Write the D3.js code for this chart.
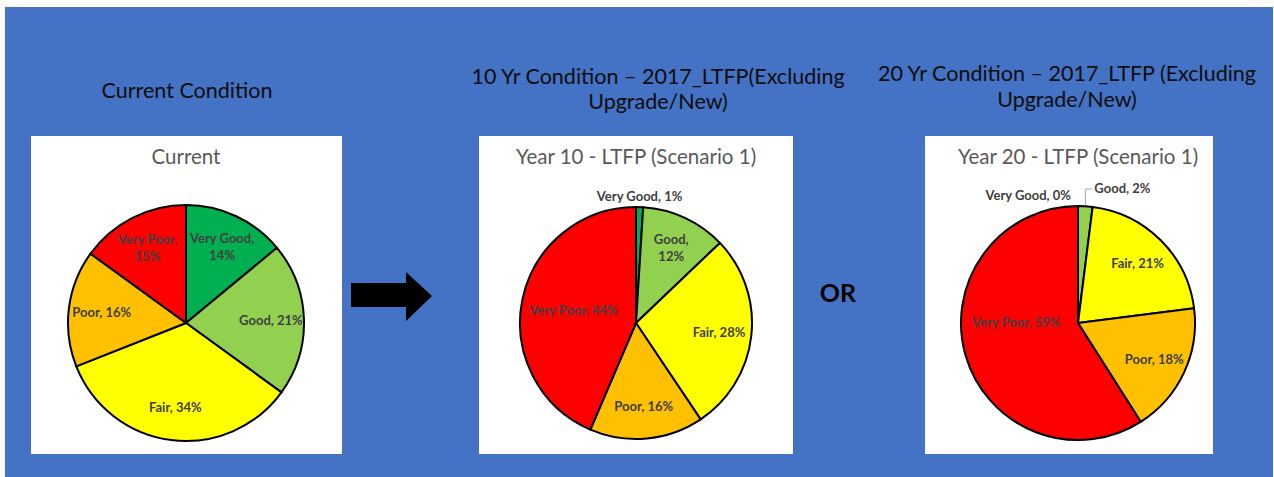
<!DOCTYPE html>
<html>
<head>
<meta charset="utf-8">
<script src="https://cdn.jsdelivr.net/npm/d3@7"></script>
<style>
  body { margin:0; background:#fff; }
  text { font-family: Lato, "Open Sans", sans-serif; }
</style>
</head>
<body>
<svg id="chart"></svg>
<script>
// categories, in clockwise order from 12 o'clock
var categories = ["Very Good", "Good", "Fair", "Poor", "Very Poor"];

// percentages
var currentValues = [14, 21, 34, 16, 15];
var year10Values = [1, 12, 28, 16, 44];
var year20Values = [0, 2, 21, 18, 59];

var panelTitles = [
  ["Current Condition"],
  ["10 Yr Condition \u2013 2017_LTFP(Excluding", "Upgrade/New)"],
  ["20 Yr Condition \u2013 2017_LTFP (Excluding", "Upgrade/New)"]
];
var chartTitles = ["Current", "Year 10 - LTFP (Scenario 1)", "Year 20 - LTFP (Scenario 1)"];

var screen = { width:1274, height:477 };

var colors = d3.scaleOrdinal()
  .domain(categories)
  .range(["#00B050", "#92D050", "#FFFF00", "#FFC000", "#FF0000"]);

// layout of the three panels
var panels = [
  { values: currentValues, box: [31, 136, 311, 318], cx: 186, cy: 323, r: 118, titleX: 187, titleY: [98] },
  { values: year10Values, box: [479, 136, 314, 318], cx: 636, cy: 323, r: 116, titleX: 658, titleY: [84, 109] },
  { values: year20Values, box: [925, 136, 288, 318], cx: 1078, cy: 323, r: 117, titleX: 1067, titleY: [81, 107] }
];

var svg = d3.select("#chart")
  .attr("width", screen.width)
  .attr("height", screen.height);

// blue slide background
svg.append("rect")
  .attr("x", 5).attr("y", 7)
  .attr("width", 1268).attr("height", 470)
  .attr("fill", "#4472C4");

var pie = d3.pie().sort(null).value(function(d){ return d.value; });

panels.forEach(function(p, k){
  var data = categories.map(function(c, i){ return { name: c, value: p.values[i] }; });
  var total = d3.sum(data, function(d){ return d.value; });

  // slide heading
  svg.append("text")
    .attr("x", p.titleX)
    .attr("text-anchor", "middle")
    .attr("font-size", 21.5)
    .attr("fill", "#0d0d0d")
    .selectAll("tspan")
    .data(panelTitles[k])
    .enter()
    .append("tspan")
    .attr("x", p.titleX)
    .attr("y", function(d, i){ return p.titleY[i]; })
    .text(function(d){ return d; });

  // white chart area
  svg.append("rect")
    .attr("x", p.box[0]).attr("y", p.box[1])
    .attr("width", p.box[2]).attr("height", p.box[3])
    .attr("fill", "#fff");

  svg.append("text")
    .attr("x", p.cx)
    .attr("y", 164)
    .attr("text-anchor", "middle")
    .attr("font-size", 20.5)
    .attr("fill", "#595959")
    .text(chartTitles[k]);

  var g = svg.append("g")
    .attr("transform", "translate(" + p.cx + "," + p.cy + ")");

  var arcs = pie(data);
  var arc = d3.arc().innerRadius(0).outerRadius(p.r);

  g.selectAll("path")
    .data(arcs)
    .enter()
    .append("path")
    .attr("d", arc)
    .attr("fill", function(d){ return colors(d.data.name); })
    .attr("stroke", "#000")
    .attr("stroke-width", 2)
    .attr("stroke-linejoin", "round");

  var inside = arcs.filter(function(d){ return d.data.value / total >= 0.03; });
  var outside = arcs.filter(function(d){ return d.data.value / total < 0.03; });

  // labels inside the slices
  inside.forEach(function(d){
    var share = d.data.value / total;
    var f = share > 0.4 ? 0.55 : 0.72;
    var lArc = d3.arc().innerRadius(f * p.r).outerRadius(f * p.r);
    var c = lArc.centroid(d);
    // big slices: keep the label close to the middle height
    if (share > 0.5) c[1] = c[1] * 0.3 - 6;
    var lines = share < 0.155
      ? [d.data.name + ",", d.data.value + "%"]
      : [d.data.name + ", " + d.data.value + "%"];
    var t = g.append("text")
      .attr("text-anchor", "middle")
      .attr("font-size", 13)
      .attr("font-weight", "bold")
      .attr("fill", "#404040");
    lines.forEach(function(line, i){
      t.append("tspan")
        .attr("x", c[0])
        .attr("y", c[1] + 5 + (i - (lines.length - 1) / 2) * 17)
        .text(line);
    });
  });

  // labels for thin slices sit above the pie
  outside.forEach(function(d, i){
    var mid = (d.startAngle + d.endAngle) / 2;
    var ex = Math.sin(mid) * p.r;
    var text = d.data.name + ", " + d.data.value + "%";
    var t = g.append("text")
      .attr("font-size", 13)
      .attr("font-weight", "bold")
      .attr("fill", "#404040")
      .text(text);
    if (outside.length == 1) {
      t.attr("text-anchor", "middle").attr("x", ex).attr("y", -p.r - 6);
    } else if (i == 0) {
      t.attr("text-anchor", "end").attr("x", ex - 7).attr("y", -p.r - 6);
    } else {
      var ey = -Math.cos(mid) * p.r;
      g.append("path")
        .attr("d", "M" + ex + "," + (ey - 1) + "V" + (-p.r - 17) + "H" + (ex + 7))
        .attr("fill", "none")
        .attr("stroke", "#a6a6a6")
        .attr("stroke-width", 1);
      t.attr("x", ex + 9).attr("y", -p.r - 13);
    }
  });
});

// arrow between current and year 10
svg.append("path")
  .attr("d", "M351,283 H406 V272 L432,296 L406,321 V307 H351 Z")
  .attr("fill", "#000");

svg.append("text")
  .attr("x", 838)
  .attr("y", 302)
  .attr("text-anchor", "middle")
  .attr("font-size", 25)
  .attr("font-weight", "bold")
  .attr("fill", "#000")
  .text("OR");
</script>
</body>
</html>
